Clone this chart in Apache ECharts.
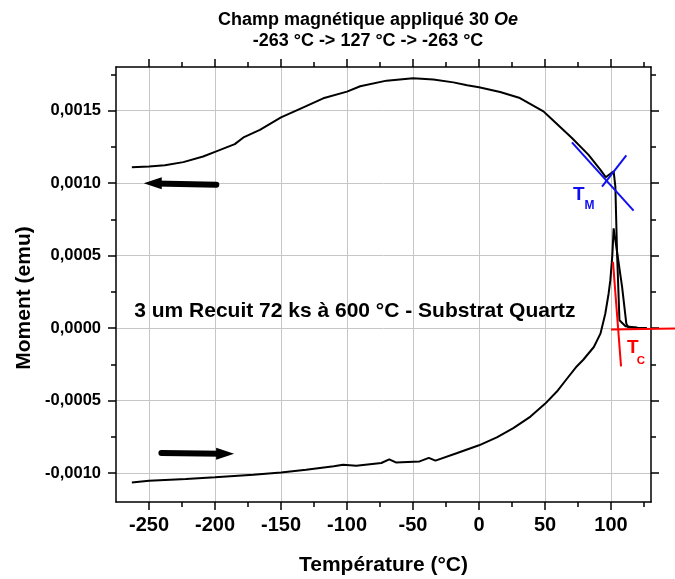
<!DOCTYPE html>
<html><head><meta charset="utf-8">
<script src="https://cdn.jsdelivr.net/npm/echarts@6/dist/echarts.min.js"></script>
<style>html,body{margin:0;padding:0;background:#fff}#c{width:675px;height:579px}</style>
</head><body><div id="c"></div>
<script>
const FONT = '"Liberation Sans", Arial, Helvetica, sans-serif';

// Heating branch (-263 -> 127 °C)
const heatT = [-263, -250, -222, -200, -171, -150, -131, -110, -103, -93, -74, -68, -63, -45, -38, -33, -17, 0, 13.5, 26, 39, 50, 59, 66.6, 74, 79, 87, 92, 95.7, 98.2, 99.5, 101, 102, 103.3, 108.4, 111.6, 113, 120, 127];
const heatM = [-0.001065, -0.001053, -0.001042, -0.00103, -0.001012, -0.000996, -0.000977, -0.000954, -0.000943, -0.00095, -0.000931, -0.000906, -0.000927, -0.00092, -0.000896, -0.000915, -0.000864, -0.000809, -0.000754, -0.000691, -0.000611, -0.000523, -0.000438, -0.00035, -0.000265, -0.000219, -0.000131, -0.000039, 0.0001, 0.000238, 0.00033, 0.0005, 0.000687, 0.000607, 0.000284, 0.00003, 0.000005, 0.000002, 0.0];

// Cooling branch (127 -> -263 °C)
const coolT = [127, 120, 111, 106.4, 104.6, 103.3, 102, 99, 96, 92, 83, 70.4, 54, 48.8, 31, 16, 0, -9, -19.4, -34.6, -50, -70, -90, -100, -118, -136, -150, -166, -178, -185, -200, -209, -224, -238, -250, -263];
const coolM = [0.0, 0.000002, 0.000012, 0.000053, 0.000514, 0.000975, 0.00108, 0.00106, 0.00104, 0.00109, 0.001194, 0.00131, 0.00145, 0.001494, 0.001586, 0.001628, 0.00166, 0.001674, 0.001694, 0.001713, 0.001722, 0.001706, 0.001667, 0.00163, 0.001584, 0.00151, 0.001452, 0.001367, 0.001317, 0.001268, 0.001215, 0.001183, 0.001144, 0.001123, 0.001113, 0.001109];

// Tangent construction lines
const tmLineAT = [70.4, 117.1];
const tmLineAM = [0.00128, 0.000809];
const tmLineBT = [93.2, 111.6];
const tmLineBM = [0.000975, 0.00119];
const tcLineAT = [100, 148.8];
const tcLineAM = [-0.000011, -0.000004];
const tcLineBT = [101.5, 107.6];
const tcLineBM = [0.000456, -0.000265];

// Direction arrows [tail, neck, tip]
const arrowCoolT = [-199, -245, -254];
const arrowCoolM = [0.000988, 0.000996, 0.000998];
const arrowHeatT = [-240.6, -195, -185.5];
const arrowHeatM = [-0.000862, -0.000867, -0.000868];

// Tick values
const xMajor = [-250, -200, -150, -100, -50, 0, 50, 100];
const xMinor = [-225, -175, -125, -75, -25, 25, 75, 125];
const yMajor = [-0.0010, -0.0005, 0, 0.0005, 0.0010, 0.0015];
const yMinor = [-0.00075, -0.00025, 0.00025, 0.00075, 0.00125, 0.00175];

const X_MIN = -275, X_MAX = 130.3, Y_MIN = -0.0012, Y_MAX = 0.0018;

const pairs = (a, b) => a.map((v, i) => [v, b[i]]);
const fmtY = v => (Math.abs(v) < 1e-12 ? '0,0000' : v.toFixed(4).replace('.', ','));

const AXC = '#000';
function xAxisDef(pos, vals, len, main) {
  return {
    type: 'value', position: pos, min: X_MIN, max: X_MAX,
    axisLine: { show: main, onZero: false, lineStyle: { color: AXC, width: 1.5 } },
    axisTick: { show: true, inside: false, length: len, customValues: vals, lineStyle: { color: AXC, width: 1.5 } },
    axisLabel: (main && pos === 'bottom') ? { show: true, customValues: vals, margin: 13, fontFamily: FONT, fontWeight: 'bold', fontSize: 20, color: '#000' } : { show: false },
    splitLine: (main && pos === 'bottom') ? { show: true, lineStyle: { color: '#c6c6c6', width: 1 } } : { show: false },
    name: (main && pos === 'bottom') ? 'Température (°C)' : '',
    nameLocation: 'middle', nameGap: 53,
    nameTextStyle: { fontFamily: FONT, fontWeight: 'bold', fontSize: 21, color: '#000' }
  };
}
function yAxisDef(pos, vals, len, main) {
  return {
    type: 'value', position: pos, min: Y_MIN, max: Y_MAX,
    axisLine: { show: main, onZero: false, lineStyle: { color: AXC, width: 1.5 } },
    axisTick: { show: true, inside: false, length: len, customValues: vals, lineStyle: { color: AXC, width: 1.5 } },
    axisLabel: (main && pos === 'left') ? { show: true, customValues: vals, margin: 15, formatter: fmtY, fontFamily: FONT, fontWeight: 'bold', fontSize: 16.5, color: '#000' } : { show: false },
    splitLine: (main && pos === 'left') ? { show: true, lineStyle: { color: '#c6c6c6', width: 1 } } : { show: false }
  };
}

const lineSeries = (name, t, m, color, width, extra) => Object.assign({
  name, type: 'line', data: pairs(t, m), showSymbol: false, symbol: 'none',
  lineStyle: { color, width }, itemStyle: { color }, xAxisIndex: 0, yAxisIndex: 0,
  animation: false, z: 3
}, extra || {});

const segSeries = (t, m, color, width) => ({
  type: 'lines', coordinateSystem: 'cartesian2d', xAxisIndex: 0, yAxisIndex: 0,
  clip: false, polyline: false, symbol: ['none', 'none'],
  lineStyle: { color, width, opacity: 1 },
  data: [{ coords: [[t[0], m[0]], [t[1], m[1]]] }], animation: false, z: 4
});

// Arrow: shaft (tail -> neck) as thick line, head as filled triangle at tip
const arrowShaft = (t, m) => lineSeries('shaft', t.slice(0, 2), m.slice(0, 2), '#000', 6, { lineStyle: { color: '#000', width: 6, cap: 'round' }, z: 4 });
const arrowHead = (t, m, dir) => ({
  type: 'scatter', xAxisIndex: 0, yAxisIndex: 0, silent: true, animation: false, z: 5,
  data: [[t[2], m[2]]],
  symbol: dir < 0 ? 'path://M0,5 L10,0 L10,10 Z' : 'path://M10,5 L0,0 L0,10 Z',
  symbolKeepAspect: false, symbolSize: [18, 12], symbolOffset: [dir < 0 ? 9 : -9, 0],
  itemStyle: { color: '#000', opacity: 1 }
});

const textSeries = (t, m, text, size, color) => ({
  type: 'scatter', xAxisIndex: 0, yAxisIndex: 0, symbolSize: 0, silent: true,
  data: [[t, m]], animation: false, z: 6, itemStyle: { opacity: 1 },
  label: { show: true, position: [0, 0], formatter: text, align: 'center', verticalAlign: 'middle', opacity: 1,
    fontFamily: FONT, fontWeight: 'bold', fontSize: size, color }
});

const chart = echarts.init(document.getElementById('c'), null, { renderer: 'canvas' });
chart.setOption({
  animation: false,
  backgroundColor: '#fff',
  grid: { left: 116, top: 67, width: 535, height: 435, containLabel: false, outerBoundsMode: 'none' },
  xAxis: [
    xAxisDef('bottom', xMajor, 8, true),
    xAxisDef('bottom', xMinor, 5, false),
    xAxisDef('top', xMajor, 8, true),
    xAxisDef('top', xMinor, 5, false)
  ],
  yAxis: [
    yAxisDef('left', yMajor, 8, true),
    yAxisDef('left', yMinor, 5, false),
    yAxisDef('right', yMajor, 8, true),
    yAxisDef('right', yMinor, 5, false)
  ],
  graphic: [
    { type: 'text', x: 368, y: 20, style: { text: 'Champ magnétique appliqué 30 {i|Oe}', fontFamily: FONT, fontWeight: 'bold', fontSize: 18, fill: '#000', align: 'center', verticalAlign: 'middle',
      rich: { i: { fontFamily: FONT, fontWeight: 'bold', fontStyle: 'italic', fontSize: 18, fill: '#000' } } } },
    { type: 'text', x: 368, y: 41, style: { text: '-263 °C -> 127 °C -> -263 °C', fontFamily: FONT, fontWeight: 'bold', fontSize: 18, fill: '#000', align: 'center', verticalAlign: 'middle' } },
    { type: 'text', x: 24, y: 298, rotation: Math.PI / 2, style: { text: 'Moment (emu)', fontFamily: FONT, fontWeight: 'bold', fontSize: 21, fill: '#000', align: 'center', verticalAlign: 'middle' } }
  ],
  series: [
    lineSeries('heat', heatT, heatM, '#000', 2),
    lineSeries('cool', coolT, coolM, '#000', 2),
    lineSeries('tmA', tmLineAT, tmLineAM, '#1010ee', 2, { z: 4 }),
    lineSeries('tmB', tmLineBT, tmLineBM, '#1010ee', 2, { z: 4 }),
    segSeries(tcLineAT, tcLineAM, '#ff0000', 2),
    lineSeries('tcB', tcLineBT, tcLineBM, '#ff0000', 2, { z: 4 }),
    arrowShaft(arrowCoolT, arrowCoolM),
    arrowHead(arrowCoolT, arrowCoolM, -1),
    arrowShaft(arrowHeatT, arrowHeatM),
    arrowHead(arrowHeatT, arrowHeatM, 1),
    textSeries(-94.0, 0.000113, '3 um Recuit 72 ks à 600 °C - Substrat Quartz', 21, '#000'),
    textSeries(75.7, 0.000918, 'T', 19, '#1010ee'),
    textSeries(83.7, 0.000843, 'M', 12, '#1010ee'),
    textSeries(116.5, -0.000137, 'T', 19, '#ff0000'),
    textSeries(122.6, -0.000225, 'C', 11.5, '#ff0000')
  ]
});
</script></body></html>
